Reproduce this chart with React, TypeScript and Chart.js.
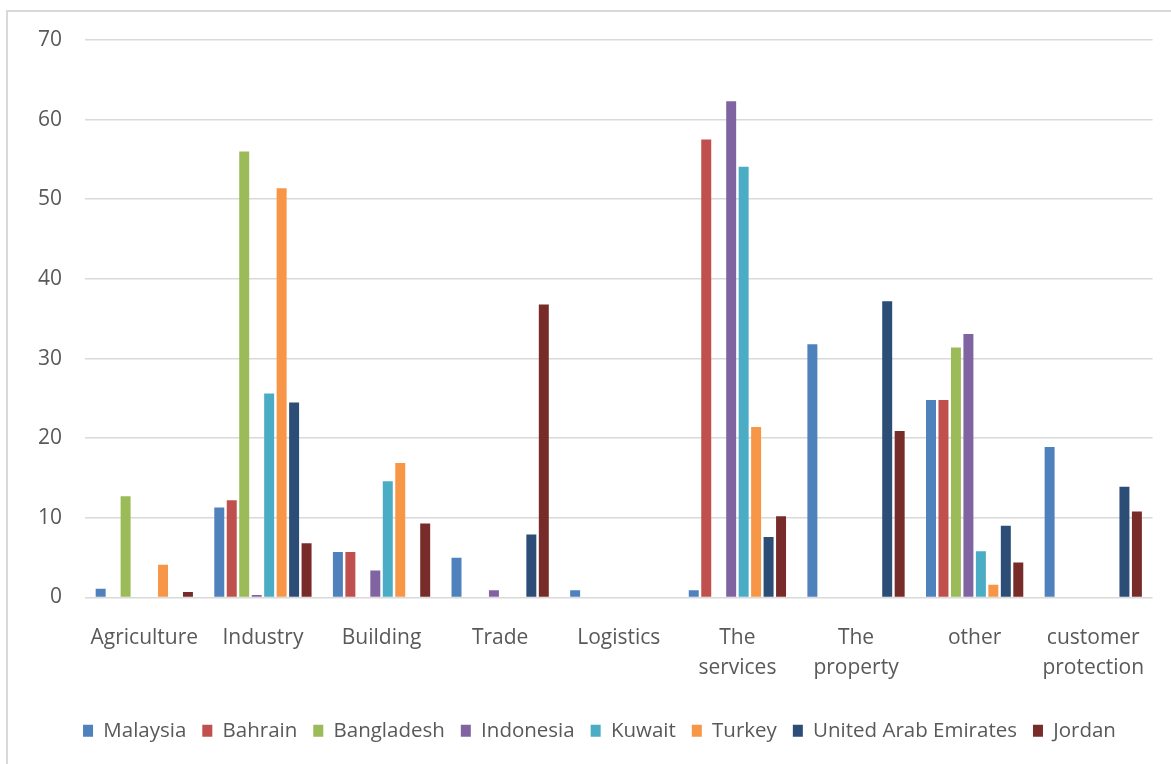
import React, { useEffect, useRef } from 'react';
import { Chart, registerables } from 'chart.js';

Chart.register(...registerables);

const categories: (string | string[])[] = [
  'Agriculture',
  'Industry',
  'Building',
  'Trade',
  'Logistics',
  ['The', 'services'],
  ['The', 'property'],
  'other',
  ['customer', 'protection'],
];

const malaysia = [1.1, 11.3, 5.7, 5.0, 0.9, 0.9, 31.8, 24.8, 18.9];
const bahrain = [0, 12.2, 5.7, 0, 0, 57.5, 0, 24.8, 0];
const bangladesh = [12.7, 56.0, 0, 0, 0, 0, 0, 31.4, 0];
const indonesia = [0, 0.3, 3.4, 0.9, 0, 62.3, 0, 33.1, 0];
const kuwait = [0, 25.6, 14.6, 0, 0, 54.1, 0, 5.8, 0];
const turkey = [4.1, 51.4, 16.9, 0, 0, 21.4, 0, 1.6, 0];
const uae = [0, 24.5, 0, 7.9, 0, 7.6, 37.2, 9.0, 13.9];
const jordan = [0.7, 6.8, 9.3, 36.8, 0, 10.2, 20.9, 4.4, 10.8];

const seriesNames = [
  'Malaysia',
  'Bahrain',
  'Bangladesh',
  'Indonesia',
  'Kuwait',
  'Turkey',
  'United Arab Emirates',
  'Jordan',
];
const seriesValues = [malaysia, bahrain, bangladesh, indonesia, kuwait, turkey, uae, jordan];
const seriesColors = [
  '#4F81BD',
  '#C0504D',
  '#9BBB59',
  '#8064A2',
  '#4BACC6',
  '#F79646',
  '#2C4D75',
  '#772C2A',
];

const yMin = 0;
const yMax = 70;
const yStep = 10;

const FONT = "'Open Sans', 'DejaVu Sans', sans-serif";
const TEXT = '#595959';

const widenYLabelArea = {
  id: 'widenYLabelArea',
  afterLayout(chart: any) {
    if (chart.scales && chart.scales.y) chart.scales.y.left = 0;
  },
};

export default function App() {
  const canvasRef = useRef<HTMLCanvasElement | null>(null);

  useEffect(() => {
    const canvas = canvasRef.current;
    if (!canvas) return;
    const chart = new Chart(canvas, {
      type: 'bar',
      data: {
        labels: categories,
        datasets: seriesNames.map((name, i) => ({
          label: name,
          data: seriesValues[i],
          backgroundColor: seriesColors[i],
          borderWidth: 0,
          barPercentage: 0.8,
          categoryPercentage: 0.841,
        })),
      },
      plugins: [widenYLabelArea],
      options: {
        responsive: false,
        animation: false,
        devicePixelRatio: 1,
        layout: { padding: { left: 44, right: 16, top: 40, bottom: 13 } },
        plugins: {
          legend: {
            position: 'bottom',
            labels: {
              boxWidth: 10,
              boxHeight: 12,
              padding: 16,
              color: TEXT,
              font: { family: FONT, size: 20.5 },
            },
          },
          tooltip: { enabled: false },
        },
        scales: {
          x: {
            grid: { display: false, drawTicks: false },
            border: { display: false },
            ticks: {
              color: TEXT,
              font: { family: FONT, size: 21, lineHeight: 1.4 },
              padding: 26,
              maxRotation: 0,
              autoSkip: false,
            },
            afterFit: (s: any) => {
              s.height = 107;
            },
          },
          y: {
            min: yMin,
            max: yMax,
            grid: { color: '#d9d9d9', lineWidth: 1.6, drawTicks: false },
            border: { display: false },
            ticks: {
              stepSize: yStep,
              color: TEXT,
              font: { family: FONT, size: 21 },
              padding: 23,
            },
            afterFit: (s: any) => {
              s.width = 41;
            },
          },
        },
      },
    });
    return () => chart.destroy();
  }, []);

  return (
    <div
      style={{
        position: 'fixed',
        left: 0,
        top: 0,
        width: 1171,
        height: 764,
        overflow: 'hidden',
        background: '#ffffff',
      }}
    >
      <div
        style={{
          position: 'absolute',
          left: 6,
          top: 10,
          width: 1300,
          height: 900,
          border: '2px solid #d9d9d9',
          boxSizing: 'border-box',
        }}
      />
      <canvas
        ref={canvasRef}
        width={1171}
        height={764}
        style={{ position: 'absolute', left: 0, top: 0, width: 1171, height: 764 }}
      />
    </div>
  );
}
